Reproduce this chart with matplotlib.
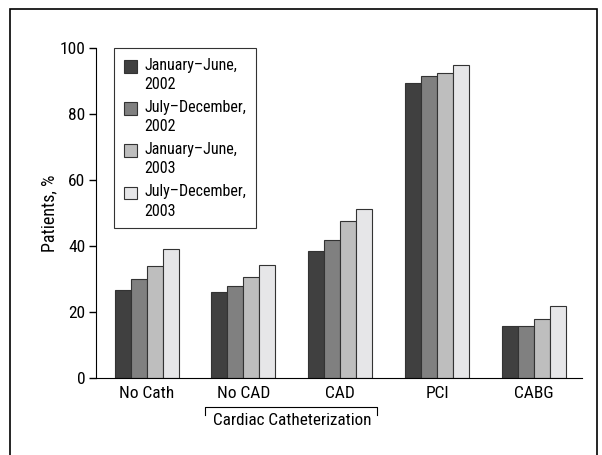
import matplotlib.pyplot as plt
import numpy as np
from matplotlib.patches import Rectangle
from matplotlib import font_manager

# narrow font like the original if there is one
names = set(f.name for f in font_manager.fontManager.ttflist)
narrow = [n for n in ['Liberation Sans Narrow', 'DejaVu Sans Condensed', 'Roboto Condensed',
                      'Open Sans Condensed', 'Noto Sans Condensed'] if n in names]
plt.rcParams['font.family'] = narrow + ['Liberation Sans', 'DejaVu Sans']

categories = ['No Cath', 'No CAD', 'CAD', 'PCI', 'CABG']
periods = ['January\u2013June,\n2002', 'July\u2013December,\n2002',
           'January\u2013June,\n2003', 'July\u2013December,\n2003']
jan_jun_2002 = [26.6, 26.0, 38.6, 89.6, 15.8]
jul_dec_2002 = [30.0, 27.8, 41.9, 91.7, 15.8]
jan_jun_2003 = [34.0, 30.8, 47.6, 92.5, 18.0]
jul_dec_2003 = [39.1, 34.2, 51.2, 94.8, 22.0]
series = [jan_jun_2002, jul_dec_2002, jan_jun_2003, jul_dec_2003]
colors = ['#404040', '#808080', '#bebebe', '#e6e6e8']

fig = plt.figure(figsize=(6.02, 4.55), dpi=100)
ax = fig.add_axes([0.16, 0.169, 0.807, 0.725])

x = np.arange(len(categories))
w = 0.165
for i, (vals, c, lab) in enumerate(zip(series, colors, periods)):
    ax.bar(x + (i - 1.5) * w, vals, width=w, color=c, edgecolor='#333333',
           linewidth=0.8, label=lab)

ax.set_xlim(-0.52, 4.5)
ax.set_ylim(0, 100)
ax.set_yticks([0, 20, 40, 60, 80, 100])
ax.set_xticks(x)
ax.set_xticklabels(categories)
ax.tick_params(axis='x', length=0, pad=6, labelsize=12.5)
ax.tick_params(axis='y', length=5, width=1, labelsize=12.5, pad=3)
ax.spines['top'].set_visible(False)
ax.spines['right'].set_visible(False)
ax.set_ylabel('Patients, %', fontsize=13, labelpad=1)

leg = ax.legend(loc='upper left', bbox_to_anchor=(0.037, 1.0), borderaxespad=0,
                fontsize=11.5, frameon=True, fancybox=False, edgecolor='black',
                borderpad=0.6, handlelength=0.85, handleheight=0.85,
                handletextpad=0.45, labelspacing=0.5)
leg.get_frame().set_linewidth(0.8)
for t in leg.get_texts():
    t.set_linespacing(1.35)
# square sits next to the first line of each label
for h in leg.legend_handles:
    h.set_y(h.get_y() + 6.5)

# bracket under No CAD and CAD
trans = ax.get_xaxis_transform()
y_br = -0.088
ax.plot([0.6, 0.6, 2.38, 2.38], [y_br - 0.025, y_br, y_br, y_br - 0.025],
        transform=trans, color='black', linewidth=0.8, clip_on=False)
ax.text(1.5, y_br - 0.018, 'Cardiac Catheterization', transform=trans,
        ha='center', va='top', fontsize=12.3)

# outer frame
fig.patches.append(Rectangle((0.016, -0.05), 0.976, 1.03, transform=fig.transFigure,
                             fill=False, edgecolor='black', linewidth=1.2))

plt.savefig('out.png', dpi=100)
